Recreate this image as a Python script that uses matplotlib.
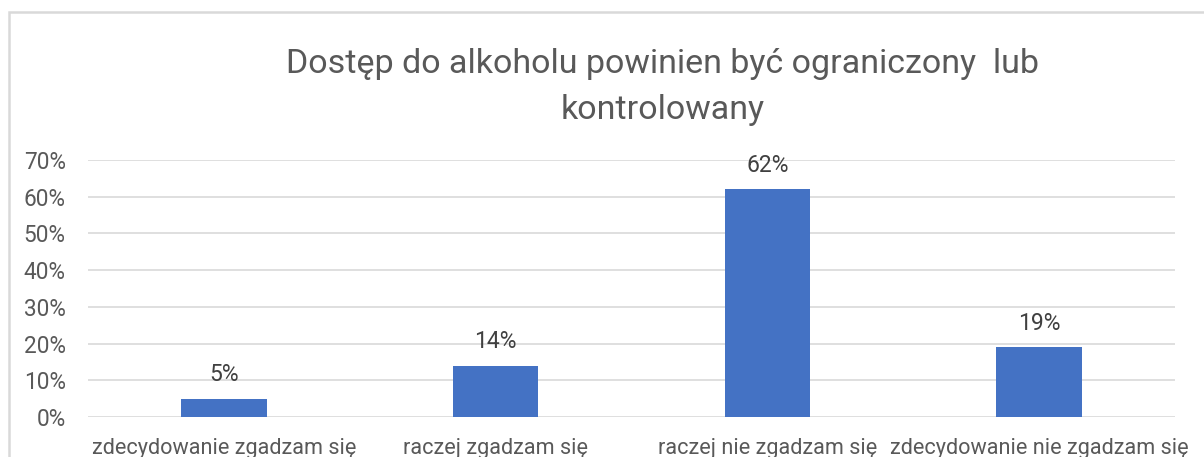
import matplotlib
matplotlib.use("Agg")
from matplotlib import pyplot as plt
from matplotlib.patches import Rectangle

# dane
categories = ['zdecydowanie zgadzam się', 'raczej zgadzam się',
              'raczej nie zgadzam się', 'zdecydowanie nie zgadzam się']
values = [5, 14, 62, 19]
yticks = [0, 10, 20, 30, 40, 50, 60, 70]
title = 'Dostęp do alkoholu powinien być ograniczony  lub\nkontrolowany'

plt.rcParams['font.family'] = ['Roboto', 'DejaVu Sans']

fig = plt.figure(figsize=(12.04, 4.57), dpi=100)
ax = fig.add_axes([88/1204, 1-417/457, (1175-88)/1204, (417-160)/457])

# ramka wykresu
fig.patches.append(Rectangle((9/1204, -0.1), 1.2, 1-12/457+0.1, transform=fig.transFigure,
                             fill=False, edgecolor='#d9d9d9', linewidth=1.8))

x = range(len(categories))
bars = ax.bar(x, values, width=0.315, color='#4472c4', zorder=3)
for b, v in zip(bars, values):
    ax.annotate(f'{v}%', (b.get_x()+b.get_width()/2, v), xytext=(0, 9),
                textcoords='offset points', ha='center', va='bottom',
                fontsize=16.5, color='#404040')

ax.set_xlim(-0.5, len(categories)-0.5)
ax.set_ylim(0, 70)
ax.set_yticks(yticks)
ax.set_yticklabels([f'{t}%' for t in yticks])
ax.set_xticks(list(x))
ax.set_xticklabels(categories)
ax.tick_params(axis='y', length=0, pad=16, labelsize=16.3, labelcolor='#595959')
ax.tick_params(axis='x', length=0, pad=15, labelsize=15.6, labelcolor='#595959')
ax.grid(axis='y', color='#d9d9d9', linewidth=1.2, zorder=0)
for s in ax.spines.values():
    s.set_visible(False)

fig.text(663/1204, 1-87/457, title, ha='center', va='center', fontsize=24.5,
         color='#595959', linespacing=1.58)

fig.savefig('out.png', dpi=100)
